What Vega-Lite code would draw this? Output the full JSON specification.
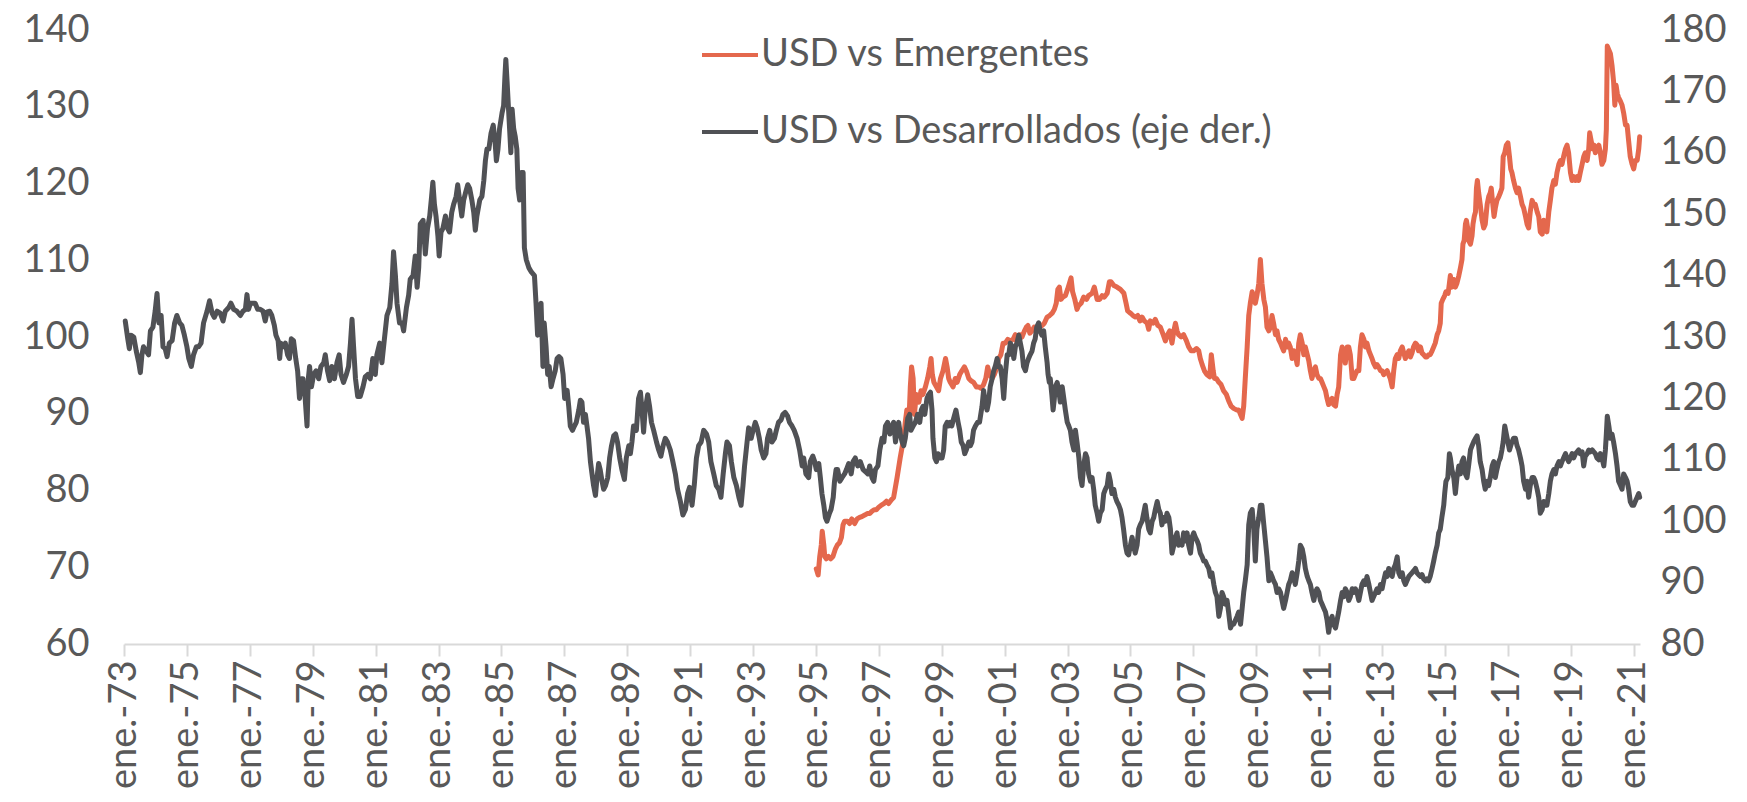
{
"$schema": "https://vega.github.io/schema/vega-lite/v6.json",
"width": 1516,
"height": 614,
"autosize": {"type": "none"},
"padding": {"left": 124, "top": 30, "right": 107, "bottom": 158},
"background": "white",
"config": {"view": {"stroke": null}, "font": "Lato", "axis": {"labelFont": "Lato", "labelColor": "#595959", "labelFontSize": 38, "grid": false, "title": null}},
"datasets": {
"emg": [
{"t":1995.01,"v":69.8},{"t":1995.07,"v":69.0},{"t":1995.12,"v":71.4},{"t":1995.17,"v":72.9},{"t":1995.20,"v":74.7},{"t":1995.25,"v":72.9},{"t":1995.28,"v":71.4},{"t":1995.33,"v":71.1},{"t":1995.40,"v":71.4},{"t":1995.47,"v":71.1},{"t":1995.54,"v":71.4},{"t":1995.62,"v":72.4},{"t":1995.68,"v":72.9},{"t":1995.75,"v":73.2},{"t":1995.81,"v":73.9},{"t":1995.86,"v":75.5},{"t":1995.91,"v":76.0},{"t":1996.00,"v":76.0},{"t":1996.07,"v":75.7},{"t":1996.14,"v":76.3},{"t":1996.23,"v":75.7},{"t":1996.31,"v":76.3},{"t":1996.39,"v":76.5},{"t":1996.46,"v":76.6},{"t":1996.55,"v":76.8},{"t":1996.63,"v":77.0},{"t":1996.71,"v":77.0},{"t":1996.78,"v":77.3},{"t":1996.85,"v":77.5},{"t":1996.92,"v":77.5},{"t":1996.99,"v":77.8},{"t":1997.08,"v":78.1},{"t":1997.16,"v":78.3},{"t":1997.24,"v":78.6},{"t":1997.31,"v":78.3},{"t":1997.40,"v":78.8},
{"t":1997.47,"v":79.1},{"t":1997.58,"v":81.7},{"t":1997.68,"v":84.3},{"t":1997.79,"v":86.8},{"t":1997.84,"v":88.9},{"t":1997.89,"v":90.5},{"t":1997.95,"v":88.4},{"t":1998.00,"v":93.5},{"t":1998.04,"v":96.1},{"t":1998.09,"v":94.6},{"t":1998.13,"v":89.9},{"t":1998.19,"v":92.5},{"t":1998.27,"v":91.5},{"t":1998.34,"v":93.0},{"t":1998.40,"v":92.5},{"t":1998.48,"v":93.5},{"t":1998.55,"v":94.6},{"t":1998.62,"v":96.1},{"t":1998.66,"v":97.2},{"t":1998.70,"v":95.1},{"t":1998.75,"v":94.1},{"t":1998.83,"v":93.5},{"t":1998.90,"v":93.0},{"t":1998.96,"v":94.6},{"t":1999.04,"v":95.6},{"t":1999.12,"v":97.2},{"t":1999.17,"v":96.1},{"t":1999.22,"v":94.6},{"t":1999.27,"v":94.1},{"t":1999.36,"v":93.5},{"t":1999.43,"v":94.6},{"t":1999.49,"v":94.1},{"t":1999.57,"v":95.1},{"t":1999.64,"v":95.6},{"t":1999.72,"v":96.1},{"t":1999.78,"v":95.6},{"t":1999.86,"v":94.6},{"t":1999.93,"v":94.3},{"t":2000.01,"v":94.1},{"t":2000.10,"v":93.5},{"t":2000.17,"v":93.5},{"t":2000.25,"v":93.3},{"t":2000.33,"v":93.8},{"t":2000.40,"v":94.6},{"t":2000.46,"v":96.1},{"t":2000.52,"v":95.1},{"t":2000.60,"v":94.6},{"t":2000.67,"v":95.1},{"t":2000.76,"v":96.1},{"t":2000.81,"v":97.2},{"t":2000.88,"v":97.7},{"t":2000.95,"v":99.2},{"t":2001.02,"v":99.2},{"t":2001.10,"v":99.7},{"t":2001.18,"v":99.5},{"t":2001.27,"v":99.7},{"t":2001.34,"v":100.3},{"t":2001.39,"v":99.2},{"t":2001.48,"v":100.3},{"t":2001.55,"v":100.0},{"t":2001.63,"v":100.8},{"t":2001.69,"v":101.3},{"t":2001.74,"v":101.5},{"t":2001.80,"v":100.5},{"t":2001.87,"v":100.8},{"t":2001.94,"v":101.3},{"t":2002.03,"v":100.8},{"t":2002.11,"v":101.3},{"t":2002.19,"v":101.5},{"t":2002.26,"v":101.8},{"t":2002.35,"v":102.6},{"t":2002.43,"v":102.8},{"t":2002.51,"v":103.1},{"t":2002.58,"v":103.6},{"t":2002.64,"v":104.4},{"t":2002.69,"v":106.2},{"t":2002.74,"v":106.5},{"t":2002.79,"v":104.9},{"t":2002.85,"v":105.2},{"t":2002.93,"v":105.4},{"t":2003.00,"v":106.2},{"t":2003.06,"v":107.0},{"t":2003.11,"v":107.7},{"t":2003.16,"v":105.9},{"t":2003.23,"v":104.9},{"t":2003.30,"v":103.6},{"t":2003.35,"v":104.1},{"t":2003.43,"v":104.4},{"t":2003.51,"v":105.2},{"t":2003.60,"v":104.9},{"t":2003.67,"v":105.4},{"t":2003.78,"v":105.7},{"t":2003.85,"v":106.5},{"t":2003.94,"v":104.9},{"t":2004.02,"v":104.9},{"t":2004.10,"v":105.4},{"t":2004.17,"v":105.2},{"t":2004.26,"v":105.7},{"t":2004.33,"v":107.2},{"t":2004.38,"v":107.2},{"t":2004.47,"v":106.7},{"t":2004.57,"v":106.5},{"t":2004.68,"v":106.2},{"t":2004.79,"v":105.7},{"t":2004.86,"v":104.4},{"t":2004.91,"v":103.4},{"t":2005.00,"v":103.1},{"t":2005.08,"v":102.8},{"t":2005.16,"v":102.6},{"t":2005.23,"v":102.8},{"t":2005.30,"v":102.1},{"t":2005.37,"v":102.6},{"t":2005.44,"v":102.1},{"t":2005.53,"v":101.8},{"t":2005.58,"v":101.0},
{"t":2005.63,"v":102.1},{"t":2005.72,"v":101.8},{"t":2005.79,"v":102.3},{"t":2005.87,"v":101.5},{"t":2005.95,"v":101.3},{"t":2006.04,"v":100.3},{"t":2006.11,"v":99.5},{"t":2006.18,"v":100.3},{"t":2006.25,"v":100.8},{"t":2006.32,"v":99.2},{"t":2006.38,"v":100.8},{"t":2006.43,"v":101.8},{"t":2006.48,"v":100.8},{"t":2006.53,"v":100.3},{"t":2006.61,"v":100.0},{"t":2006.69,"v":100.3},{"t":2006.78,"v":99.5},{"t":2006.85,"v":98.7},{"t":2006.93,"v":98.2},{"t":2007.01,"v":98.2},{"t":2007.10,"v":98.5},{"t":2007.17,"v":98.2},{"t":2007.22,"v":97.2},{"t":2007.28,"v":96.4},{"t":2007.35,"v":95.6},{"t":2007.43,"v":95.1},{"t":2007.52,"v":94.8},{"t":2007.57,"v":97.7},{"t":2007.63,"v":95.6},{"t":2007.67,"v":94.6},{"t":2007.73,"v":94.6},{"t":2007.81,"v":94.1},{"t":2007.88,"v":93.8},{"t":2007.96,"v":93.0},{"t":2008.05,"v":92.5},{"t":2008.12,"v":91.7},{"t":2008.20,"v":91.0},{"t":2008.28,"v":90.7},{"t":2008.37,"v":90.5},{"t":2008.44,"v":90.5},{"t":2008.50,"v":89.9},{"t":2008.55,"v":89.4},{"t":2008.60,"v":91.0},{"t":2008.65,"v":94.6},{"t":2008.71,"v":98.7},{"t":2008.76,"v":102.8},{"t":2008.81,"v":104.4},{"t":2008.87,"v":105.9},{"t":2008.92,"v":104.9},{"t":2008.97,"v":104.4},{"t":2009.02,"v":105.4},{"t":2009.08,"v":107.0},{"t":2009.13,"v":110.1},{"t":2009.18,"v":107.0},{"t":2009.24,"v":104.9},{"t":2009.29,"v":103.9},{"t":2009.34,"v":101.3},{"t":2009.40,"v":100.8},{"t":2009.45,"v":101.3},{"t":2009.50,"v":102.8},{"t":2009.55,"v":101.8},{"t":2009.61,"v":100.3},{"t":2009.66,"v":100.8},{"t":2009.71,"v":99.7},{"t":2009.77,"v":99.2},{"t":2009.82,"v":98.7},{"t":2009.87,"v":98.2},{"t":2009.93,"v":99.7},{"t":2009.98,"v":98.7},{"t":2010.03,"v":99.2},{"t":2010.08,"v":98.7},{"t":2010.14,"v":97.2},{"t":2010.19,"v":98.2},{"t":2010.24,"v":97.7},{"t":2010.30,"v":96.4},{"t":2010.35,"v":99.2},{"t":2010.40,"v":100.3},{"t":2010.46,"v":99.2},{"t":2010.51,"v":97.7},{"t":2010.56,"v":98.7},{"t":2010.62,"v":97.7},{"t":2010.67,"v":96.9},{"t":2010.72,"v":95.6},{"t":2010.77,"v":94.6},{"t":2010.83,"v":95.6},{"t":2010.88,"v":96.1},{"t":2010.93,"v":95.1},{"t":2010.99,"v":94.6},{"t":2011.04,"v":94.6},{"t":2011.09,"v":94.1},{"t":2011.15,"v":93.5},{"t":2011.20,"v":93.0},{"t":2011.25,"v":92.0},{"t":2011.30,"v":91.2},{"t":2011.36,"v":91.7},{"t":2011.41,"v":92.0},{"t":2011.46,"v":91.2},{"t":2011.52,"v":91.0},{"t":2011.57,"v":92.5},{"t":2011.62,"v":93.5},{"t":2011.68,"v":97.7},{"t":2011.73,"v":98.7},{"t":2011.78,"v":98.2},{"t":2011.83,"v":96.6},{"t":2011.89,"v":98.7},{"t":2011.94,"v":98.7},{"t":2011.99,"v":97.7},{"t":2012.05,"v":94.6},{"t":2012.10,"v":94.6},{"t":2012.15,"v":95.1},{"t":2012.20,"v":95.6},{"t":2012.26,"v":95.6},{"t":2012.31,"v":98.7},{"t":2012.36,"v":100.3},{"t":2012.42,"v":99.7},{"t":2012.47,"v":98.7},{"t":2012.52,"v":99.2},{"t":2012.58,"v":98.2},{"t":2012.63,"v":97.7},{"t":2012.68,"v":97.2},{"t":2012.73,"v":96.6},{"t":2012.79,"v":96.1},{"t":2012.84,"v":96.4},{"t":2012.89,"v":96.1},{"t":2012.95,"v":95.6},{"t":2013.00,"v":95.6},{"t":2013.05,"v":95.1},{"t":2013.11,"v":95.4},{"t":2013.16,"v":95.6},{"t":2013.21,"v":95.1},{"t":2013.26,"v":94.6},{"t":2013.32,"v":93.5},{"t":2013.37,"v":95.6},{"t":2013.42,"v":97.2},{"t":2013.48,"v":97.7},{"t":2013.53,"v":97.2},{"t":2013.58,"v":98.2},{"t":2013.64,"v":98.7},{"t":2013.69,"v":97.9},
{"t":2013.74,"v":97.2},{"t":2013.79,"v":97.7},{"t":2013.85,"v":98.2},{"t":2013.90,"v":97.4},{"t":2013.95,"v":97.9},{"t":2014.00,"v":98.7},{"t":2014.06,"v":99.2},{"t":2014.11,"v":99.0},{"t":2014.16,"v":98.2},{"t":2014.22,"v":98.7},{"t":2014.27,"v":97.9},{"t":2014.32,"v":97.7},{"t":2014.38,"v":97.4},{"t":2014.43,"v":97.4},{"t":2014.48,"v":97.7},{"t":2014.53,"v":97.7},{"t":2014.59,"v":98.2},{"t":2014.64,"v":98.7},{"t":2014.69,"v":99.2},{"t":2014.75,"v":100.3},{"t":2014.80,"v":100.8},{"t":2014.85,"v":101.8},{"t":2014.88,"v":104.4},{"t":2014.93,"v":104.9},{"t":2014.99,"v":105.4},{"t":2015.03,"v":105.9},{"t":2015.10,"v":105.7},{"t":2015.14,"v":107.0},{"t":2015.17,"v":108.0},{"t":2015.22,"v":106.5},{"t":2015.28,"v":107.5},{"t":2015.33,"v":106.5},{"t":2015.38,"v":107.0},{"t":2015.44,"v":108.0},{"t":2015.49,"v":109.0},{"t":2015.54,"v":110.1},{"t":2015.57,"v":112.1},{"t":2015.61,"v":112.6},{"t":2015.65,"v":114.7},{"t":2015.68,"v":115.2},{"t":2015.72,"v":114.2},{"t":2015.75,"v":112.6},{"t":2015.81,"v":112.1},{"t":2015.86,"v":113.2},{"t":2015.89,"v":114.7},{"t":2015.93,"v":115.7},{"t":2015.97,"v":116.3},{"t":2016.00,"v":119.4},{"t":2016.03,"v":120.4},{"t":2016.07,"v":118.8},{"t":2016.12,"v":117.3},{"t":2016.18,"v":115.2},{"t":2016.23,"v":114.2},{"t":2016.28,"v":114.7},{"t":2016.34,"v":117.3},{"t":2016.39,"v":118.3},{"t":2016.44,"v":118.8},{"t":2016.47,"v":119.4},{"t":2016.52,"v":117.3},{"t":2016.56,"v":115.7},{"t":2016.60,"v":116.8},{"t":2016.65,"v":117.8},{"t":2016.71,"v":118.3},{"t":2016.76,"v":118.8},{"t":2016.81,"v":119.4},{"t":2016.85,"v":123.5},{"t":2016.90,"v":124.0},{"t":2016.95,"v":125.0},{"t":2017.00,"v":125.3},{"t":2017.05,"v":123.5},{"t":2017.09,"v":121.9},{"t":2017.13,"v":121.4},{"t":2017.18,"v":120.4},{"t":2017.24,"v":119.4},{"t":2017.29,"v":118.8},{"t":2017.34,"v":119.4},{"t":2017.40,"v":118.3},{"t":2017.45,"v":117.3},{"t":2017.50,"v":116.8},{"t":2017.56,"v":115.7},{"t":2017.61,"v":114.7},{"t":2017.66,"v":114.2},{"t":2017.71,"v":116.3},{"t":2017.77,"v":117.8},{"t":2017.82,"v":117.3},{"t":2017.87,"v":117.3},{"t":2017.93,"v":116.3},{"t":2017.98,"v":115.7},{"t":2018.03,"v":113.7},{"t":2018.09,"v":113.4},{"t":2018.14,"v":115.2},{"t":2018.19,"v":114.7},{"t":2018.24,"v":113.7},{"t":2018.30,"v":116.3},{"t":2018.35,"v":117.8},{"t":2018.40,"v":119.4},{"t":2018.46,"v":120.4},{"t":2018.51,"v":119.9},{"t":2018.56,"v":121.4},{"t":2018.62,"v":122.5},{"t":2018.67,"v":123.0},{"t":2018.72,"v":122.5},{"t":2018.77,"v":123.5},{"t":2018.83,"v":124.5},{"t":2018.88,"v":125.0},{"t":2018.93,"v":124.0},{"t":2018.99,"v":121.4},{"t":2019.04,"v":120.4},{"t":2019.09,"v":120.9},{"t":2019.15,"v":120.4},{"t":2019.20,"v":120.9},{"t":2019.25,"v":120.4},{"t":2019.30,"v":121.4},{"t":2019.36,"v":122.5},{"t":2019.41,"v":123.5},{"t":2019.46,"v":124.0},{"t":2019.52,"v":123.0},{"t":2019.57,"v":124.5},{"t":2019.60,"v":126.6},{"t":2019.65,"v":125.5},{"t":2019.70,"v":124.5},{"t":2019.74,"v":125.0},{"t":2019.78,"v":124.0},{"t":2019.83,"v":124.5},{"t":2019.89,"v":125.0},{"t":2019.94,"v":124.0},{"t":2019.99,"v":122.5},{"t":2020.05,"v":123.0},{"t":2020.10,"v":124.5},{"t":2020.13,"v":127.1},{"t":2020.16,"v":137.9},{"t":2020.21,"v":137.4},{"t":2020.26,"v":136.9},{"t":2020.31,"v":135.4},{"t":2020.36,"v":133.3},{"t":2020.40,"v":130.2},{"t":2020.44,"v":132.8},{"t":2020.48,"v":131.7},{"t":2020.52,"v":131.2},{"t":2020.58,"v":130.7},{"t":2020.63,"v":130.2},{"t":2020.68,"v":129.2},{"t":2020.74,"v":127.6},{"t":2020.79,"v":127.6},{"t":2020.84,"v":125.5},{"t":2020.89,"v":123.5},{"t":2020.95,"v":122.5},{"t":2021.00,"v":121.9},{"t":2021.05,"v":123.0},{"t":2021.11,"v":123.0},{"t":2021.16,"v":124.5},{"t":2021.19,"v":126.1}
],
"des": [
{"t":1973.04,"v":132.6},{"t":1973.12,"v":129.7},{"t":1973.17,"v":128.1},{"t":1973.22,"v":130.3},{"t":1973.31,"v":130.0},{"t":1973.39,"v":127.7},{"t":1973.47,"v":125.8},{"t":1973.52,"v":124.2},{"t":1973.57,"v":127.1},{"t":1973.62,"v":128.4},{"t":1973.71,"v":127.7},{"t":1973.78,"v":127.1},{"t":1973.84,"v":131.0},{"t":1973.92,"v":131.6},{"t":1973.99,"v":134.2},{"t":1974.05,"v":137.1},{"t":1974.11,"v":132.3},{"t":1974.18,"v":133.5},{"t":1974.24,"v":128.4},{"t":1974.31,"v":128.1},{"t":1974.37,"v":126.8},{"t":1974.44,"v":129.0},{"t":1974.53,"v":129.4},{"t":1974.61,"v":132.3},{"t":1974.68,"v":133.5},{"t":1974.77,"v":132.3},{"t":1974.84,"v":131.9},{"t":1974.92,"v":130.3},{"t":1975.00,"v":128.4},{"t":1975.06,"v":126.5},{"t":1975.14,"v":125.2},{"t":1975.21,"v":127.1},{"t":1975.30,"v":128.4},{"t":1975.37,"v":128.4},{"t":1975.45,"v":129.0},{"t":1975.53,"v":132.3},{"t":1975.64,"v":134.2},{"t":1975.72,"v":135.9},{"t":1975.80,"v":133.9},{"t":1975.87,"v":133.2},{"t":1975.96,"v":134.2},{"t":1976.06,"v":133.9},{"t":1976.15,"v":132.6},{"t":1976.22,"v":134.2},{"t":1976.33,"v":134.8},{"t":1976.40,"v":135.5},{"t":1976.49,"v":134.5},{"t":1976.59,"v":134.2},{"t":1976.70,"v":133.5},{"t":1976.78,"v":134.2},{"t":1976.86,"v":134.5},{"t":1976.91,"v":136.9},{"t":1976.96,"v":134.5},{"t":1977.02,"v":135.5},{"t":1977.10,"v":135.5},{"t":1977.17,"v":135.5},{"t":1977.25,"v":134.5},{"t":1977.33,"v":134.5},{"t":1977.42,"v":134.2},{"t":1977.49,"v":132.6},{"t":1977.55,"v":134.1},{"t":1977.63,"v":134.2},{"t":1977.70,"v":133.5},{"t":1977.78,"v":131.9},{"t":1977.83,"v":130.3},{"t":1977.90,"v":129.4},{"t":1977.95,"v":126.5},{"t":1977.99,"v":129.0},{"t":1978.05,"v":128.4},{"t":1978.13,"v":129.0},{"t":1978.20,"v":127.1},{"t":1978.26,"v":126.5},{"t":1978.32,"v":129.7},{"t":1978.39,"v":129.4},{"t":1978.46,"v":126.5},{"t":1978.52,"v":124.5},{"t":1978.58,"v":120.0},{"t":1978.64,"v":123.2},{"t":1978.69,"v":123.2},{"t":1978.76,"v":120.0},{"t":1978.82,"v":115.5},{"t":1978.86,"v":123.2},{"t":1978.90,"v":125.2},{"t":1978.96,"v":121.9},{"t":1979.03,"v":123.9},{"t":1979.11,"v":124.5},{"t":1979.19,"v":123.2},{"t":1979.26,"v":125.2},{"t":1979.35,"v":125.8},{"t":1979.40,"v":127.1},{"t":1979.47,"v":124.5},{"t":1979.54,"v":122.9},{"t":1979.61,"v":125.2},{"t":1979.69,"v":123.2},{"t":1979.77,"v":125.8},{"t":1979.84,"v":127.1},{"t":1979.90,"v":123.9},{"t":1979.98,"v":122.6},{"t":1980.07,"v":123.9},{"t":1980.14,"v":125.2},{"t":1980.20,"v":129.0},{"t":1980.25,"v":132.9},{"t":1980.30,"v":128.4},{"t":1980.36,"v":123.2},{"t":1980.43,"v":120.3},{"t":1980.51,"v":120.3},{"t":1980.60,"v":121.9},{"t":1980.67,"v":123.5},{"t":1980.75,"v":123.9},
{"t":1980.83,"v":123.2},{"t":1980.91,"v":126.5},{"t":1980.99,"v":123.9},{"t":1981.04,"v":127.1},{"t":1981.13,"v":129.0},{"t":1981.20,"v":125.8},{"t":1981.28,"v":129.7},{"t":1981.36,"v":133.5},{"t":1981.45,"v":134.8},{"t":1981.52,"v":138.7},{"t":1981.57,"v":143.9},{"t":1981.63,"v":140.0},{"t":1981.68,"v":135.5},{"t":1981.76,"v":132.3},{"t":1981.84,"v":132.3},{"t":1981.89,"v":131.0},{"t":1981.98,"v":134.8},{"t":1982.05,"v":136.8},{"t":1982.10,"v":139.4},{"t":1982.19,"v":140.0},{"t":1982.26,"v":143.2},{"t":1982.32,"v":138.1},{"t":1982.37,"v":141.3},{"t":1982.42,"v":148.4},{"t":1982.51,"v":149.0},{"t":1982.58,"v":143.5},{"t":1982.65,"v":147.7},{"t":1982.72,"v":149.7},{"t":1982.78,"v":152.9},{"t":1982.82,"v":155.2},{"t":1982.87,"v":151.6},{"t":1982.92,"v":149.7},{"t":1982.98,"v":146.5},{"t":1983.02,"v":143.2},{"t":1983.08,"v":147.1},{"t":1983.14,"v":147.7},{"t":1983.22,"v":149.7},{"t":1983.29,"v":147.7},{"t":1983.35,"v":147.1},{"t":1983.42,"v":150.3},{"t":1983.48,"v":151.6},{"t":1983.56,"v":152.9},{"t":1983.61,"v":154.8},{"t":1983.67,"v":152.3},{"t":1983.74,"v":149.7},{"t":1983.80,"v":152.3},{"t":1983.86,"v":153.5},{"t":1983.93,"v":154.8},{"t":1983.99,"v":154.2},{"t":1984.06,"v":152.3},{"t":1984.12,"v":150.3},{"t":1984.17,"v":147.4},{"t":1984.22,"v":149.7},{"t":1984.31,"v":152.3},{"t":1984.38,"v":152.9},{"t":1984.44,"v":155.5},{"t":1984.49,"v":158.7},{"t":1984.54,"v":160.6},{"t":1984.60,"v":160.6},{"t":1984.67,"v":163.2},{"t":1984.74,"v":164.5},{"t":1984.79,"v":162.3},{"t":1984.84,"v":158.7},{"t":1984.89,"v":160.6},{"t":1984.94,"v":163.9},{"t":1985.02,"v":166.5},{"t":1985.07,"v":167.7},{"t":1985.11,"v":172.3},{"t":1985.14,"v":175.2},{"t":1985.18,"v":171.6},{"t":1985.22,"v":167.7},{"t":1985.26,"v":163.9},{"t":1985.30,"v":160.0},{"t":1985.34,"v":167.1},{"t":1985.39,"v":163.9},{"t":1985.44,"v":162.6},{"t":1985.49,"v":160.6},{"t":1985.53,"v":154.2},{"t":1985.58,"v":152.3},{"t":1985.63,"v":156.8},{"t":1985.69,"v":156.8},{"t":1985.73,"v":144.5},{"t":1985.79,"v":142.6},{"t":1985.87,"v":141.3},{"t":1985.95,"v":140.6},{"t":1986.05,"v":140.0},{"t":1986.10,"v":135.5},{"t":1986.15,"v":130.3},{"t":1986.21,"v":134.8},{"t":1986.26,"v":135.5},{"t":1986.32,"v":125.2},{"t":1986.36,"v":132.3},{"t":1986.42,"v":128.4},{"t":1986.47,"v":123.9},{"t":1986.52,"v":125.2},{"t":1986.58,"v":121.9},{"t":1986.64,"v":123.2},{"t":1986.71,"v":124.5},{"t":1986.77,"v":126.5},{"t":1986.83,"v":126.8},{"t":1986.89,"v":126.5},{"t":1986.96,"v":123.9},{"t":1987.01,"v":120.0},{"t":1987.09,"v":121.3},{"t":1987.14,"v":118.7},{"t":1987.19,"v":115.5},{"t":1987.26,"v":114.8},{"t":1987.32,"v":115.5},{"t":1987.38,"v":116.1},{"t":1987.46,"v":118.1},{"t":1987.51,"v":119.7},{"t":1987.56,"v":119.4},{"t":1987.61,"v":116.1},{"t":1987.67,"v":117.4},{"t":1987.72,"v":115.5},{"t":1987.77,"v":113.5},{"t":1987.83,"v":109.7},{"t":1987.88,"v":107.7},{"t":1987.93,"v":105.8},{"t":1987.99,"v":104.2},{"t":1988.04,"v":107.1},{"t":1988.09,"v":109.4},{"t":1988.14,"v":108.4},{"t":1988.20,"v":106.5},{"t":1988.25,"v":105.2},{"t":1988.31,"v":105.8},{"t":1988.38,"v":107.1},{"t":1988.44,"v":110.3},{"t":1988.50,"v":112.3},{"t":1988.57,"v":113.9},{"t":1988.63,"v":114.2},{"t":1988.69,"v":112.9},{"t":1988.76,"v":110.3},{"t":1988.83,"v":108.4},{"t":1988.91,"v":106.8},{"t":1988.97,"v":110.3},{"t":1989.05,"v":112.3},
{"t":1989.10,"v":111.0},{"t":1989.15,"v":112.9},{"t":1989.20,"v":115.5},{"t":1989.29,"v":114.8},{"t":1989.36,"v":120.0},{"t":1989.42,"v":121.0},{"t":1989.47,"v":118.1},{"t":1989.52,"v":114.5},{"t":1989.57,"v":118.1},{"t":1989.65,"v":120.6},{"t":1989.71,"v":118.7},{"t":1989.77,"v":116.1},{"t":1989.84,"v":114.8},{"t":1989.93,"v":112.9},{"t":1990.00,"v":111.6},{"t":1990.07,"v":110.6},{"t":1990.14,"v":112.3},{"t":1990.21,"v":113.5},{"t":1990.28,"v":112.9},{"t":1990.37,"v":111.6},{"t":1990.45,"v":109.7},{"t":1990.53,"v":107.7},{"t":1990.60,"v":105.2},{"t":1990.69,"v":103.2},{"t":1990.77,"v":101.0},{"t":1990.85,"v":101.9},{"t":1990.92,"v":104.5},{"t":1990.98,"v":105.5},{"t":1991.06,"v":102.6},{"t":1991.13,"v":105.8},{"t":1991.20,"v":110.3},{"t":1991.27,"v":112.3},{"t":1991.35,"v":112.9},{"t":1991.43,"v":114.8},{"t":1991.52,"v":114.2},{"t":1991.59,"v":112.9},{"t":1991.66,"v":109.7},{"t":1991.75,"v":107.7},{"t":1991.83,"v":105.8},{"t":1991.91,"v":105.2},{"t":1991.98,"v":103.9},{"t":1992.05,"v":107.7},{"t":1992.12,"v":111.0},{"t":1992.17,"v":112.9},{"t":1992.25,"v":112.3},{"t":1992.31,"v":109.7},{"t":1992.39,"v":107.1},{"t":1992.47,"v":105.8},{"t":1992.55,"v":103.9},{"t":1992.62,"v":102.6},{"t":1992.68,"v":105.8},{"t":1992.73,"v":109.0},{"t":1992.81,"v":112.9},{"t":1992.86,"v":115.2},{"t":1992.94,"v":113.5},{"t":1993.00,"v":114.8},{"t":1993.07,"v":116.1},{"t":1993.13,"v":115.2},{"t":1993.20,"v":113.5},{"t":1993.26,"v":111.6},{"t":1993.34,"v":110.3},{"t":1993.41,"v":111.0},{"t":1993.46,"v":113.5},{"t":1993.53,"v":114.8},{"t":1993.60,"v":112.9},{"t":1993.68,"v":113.5},{"t":1993.74,"v":114.8},{"t":1993.81,"v":116.1},{"t":1993.89,"v":116.5},{"t":1993.95,"v":117.4},{"t":1994.02,"v":117.7},{"t":1994.10,"v":117.1},{"t":1994.16,"v":116.1},{"t":1994.24,"v":115.5},{"t":1994.31,"v":114.8},{"t":1994.40,"v":113.5},{"t":1994.48,"v":111.6},{"t":1994.56,"v":109.0},{"t":1994.61,"v":110.3},{"t":1994.68,"v":107.7},{"t":1994.77,"v":107.1},{"t":1994.82,"v":109.7},{"t":1994.90,"v":110.6},{"t":1994.96,"v":109.7},{"t":1995.01,"v":108.4},{"t":1995.09,"v":109.4},{"t":1995.14,"v":107.1},{"t":1995.19,"v":104.5},{"t":1995.25,"v":102.6},{"t":1995.30,"v":100.6},{"t":1995.35,"v":100.0},{"t":1995.43,"v":101.3},{"t":1995.48,"v":101.9},{"t":1995.55,"v":103.9},{"t":1995.59,"v":106.5},{"t":1995.64,"v":108.4},{"t":1995.69,"v":108.4},{"t":1995.76,"v":106.5},{"t":1995.83,"v":107.1},{"t":1995.91,"v":107.7},{"t":1995.97,"v":108.4},{"t":1996.04,"v":109.4},{"t":1996.12,"v":107.7},{"t":1996.18,"v":109.7},{"t":1996.25,"v":110.3},{"t":1996.33,"v":109.0},{"t":1996.41,"v":109.7},{"t":1996.50,"v":108.4},{"t":1996.57,"v":108.1},{"t":1996.65,"v":107.7},{"t":1996.71,"v":109.0},{"t":1996.78,"v":107.1},{"t":1996.84,"v":106.5},{"t":1996.89,"v":108.4},{"t":1996.97,"v":109.0},{"t":1997.03,"v":111.6},{"t":1997.10,"v":113.5},{"t":1997.16,"v":112.9},{"t":1997.21,"v":115.5},{"t":1997.28,"v":116.1},{"t":1997.35,"v":114.2},
{"t":1997.42,"v":115.5},{"t":1997.47,"v":116.1},{"t":1997.53,"v":112.9},{"t":1997.58,"v":114.8},{"t":1997.63,"v":116.1},{"t":1997.68,"v":114.2},{"t":1997.74,"v":112.9},{"t":1997.79,"v":112.3},{"t":1997.84,"v":113.5},{"t":1997.92,"v":116.8},{"t":1997.98,"v":117.4},{"t":1998.02,"v":114.8},{"t":1998.09,"v":115.5},{"t":1998.16,"v":116.1},{"t":1998.23,"v":117.4},{"t":1998.30,"v":116.1},{"t":1998.35,"v":118.1},{"t":1998.40,"v":118.7},{"t":1998.46,"v":117.4},{"t":1998.53,"v":120.0},{"t":1998.58,"v":120.6},{"t":1998.64,"v":121.0},{"t":1998.69,"v":118.1},{"t":1998.72,"v":113.5},{"t":1998.78,"v":110.3},{"t":1998.83,"v":109.7},{"t":1998.88,"v":111.0},{"t":1998.93,"v":110.3},{"t":1999.01,"v":110.3},{"t":1999.06,"v":111.6},{"t":1999.11,"v":115.5},{"t":1999.17,"v":116.1},{"t":1999.22,"v":115.5},{"t":1999.27,"v":116.1},{"t":1999.32,"v":115.5},{"t":1999.38,"v":116.8},{"t":1999.45,"v":118.1},{"t":1999.52,"v":116.1},{"t":1999.57,"v":114.8},{"t":1999.62,"v":112.9},{"t":1999.68,"v":112.3},{"t":1999.73,"v":111.0},{"t":1999.78,"v":111.6},{"t":1999.86,"v":112.9},{"t":1999.91,"v":112.3},{"t":1999.96,"v":112.9},{"t":2000.01,"v":114.8},{"t":2000.07,"v":115.5},{"t":2000.14,"v":116.1},{"t":2000.20,"v":116.1},{"t":2000.28,"v":118.7},{"t":2000.33,"v":121.3},{"t":2000.38,"v":119.4},{"t":2000.44,"v":118.1},{"t":2000.49,"v":119.4},{"t":2000.54,"v":121.9},{"t":2000.60,"v":123.2},{"t":2000.65,"v":124.5},{"t":2000.70,"v":125.2},{"t":2000.76,"v":126.5},{"t":2000.81,"v":125.2},{"t":2000.86,"v":125.2},{"t":2000.92,"v":123.2},{"t":2000.97,"v":120.0},{"t":2001.02,"v":123.9},{"t":2001.08,"v":127.1},{"t":2001.13,"v":127.1},{"t":2001.18,"v":129.0},{"t":2001.24,"v":128.4},{"t":2001.29,"v":126.5},{"t":2001.34,"v":128.4},{"t":2001.39,"v":129.0},{"t":2001.45,"v":130.3},{"t":2001.50,"v":129.0},{"t":2001.55,"v":127.7},{"t":2001.60,"v":125.2},{"t":2001.66,"v":124.5},{"t":2001.71,"v":125.8},{"t":2001.76,"v":126.5},{"t":2001.81,"v":127.1},{"t":2001.87,"v":127.7},{"t":2001.92,"v":129.0},{"t":2001.97,"v":129.7},{"t":2002.02,"v":131.6},{"t":2002.08,"v":132.3},{"t":2002.13,"v":131.0},{"t":2002.18,"v":130.3},{"t":2002.24,"v":131.0},{"t":2002.29,"v":128.4},{"t":2002.35,"v":125.8},{"t":2002.38,"v":123.9},{"t":2002.42,"v":122.6},{"t":2002.45,"v":123.2},{"t":2002.50,"v":120.6},{"t":2002.54,"v":118.1},{"t":2002.58,"v":120.0},{"t":2002.61,"v":121.9},{"t":2002.67,"v":122.6},{"t":2002.72,"v":121.3},{"t":2002.77,"v":119.4},{"t":2002.83,"v":121.9},{"t":2002.88,"v":120.0},{"t":2002.93,"v":118.1},{"t":2002.99,"v":116.1},{"t":2003.04,"v":115.5},{"t":2003.09,"v":114.8},{"t":2003.14,"v":112.9},{"t":2003.20,"v":111.6},{"t":2003.25,"v":114.8},{"t":2003.30,"v":112.9},{"t":2003.36,"v":110.3},{"t":2003.41,"v":107.1},{"t":2003.46,"v":105.8},{"t":2003.51,"v":109.0},{"t":2003.57,"v":111.0},{"t":2003.62,"v":110.3},{"t":2003.67,"v":107.7},{"t":2003.73,"v":106.5},{"t":2003.78,"v":107.1},{"t":2003.83,"v":105.2},{"t":2003.88,"v":102.6},{"t":2003.94,"v":101.3},{"t":2003.99,"v":100.0},{"t":2004.04,"v":101.3},{"t":2004.10,"v":101.9},{"t":2004.15,"v":104.5},{"t":2004.20,"v":105.2},{"t":2004.26,"v":105.8},{"t":2004.31,"v":107.7},{"t":2004.36,"v":106.5},{"t":2004.41,"v":104.5},{"t":2004.47,"v":105.2},{"t":2004.52,"v":103.9},{"t":2004.57,"v":103.2},{"t":2004.63,"v":102.6},{"t":2004.68,"v":101.9},{"t":2004.73,"v":100.6},{"t":2004.78,"v":98.7},{"t":2004.84,"v":96.1},{"t":2004.89,"v":94.8},{"t":2004.94,"v":94.5},{"t":2005.00,"v":96.1},{"t":2005.05,"v":97.4},{"t":2005.10,"v":96.1},{"t":2005.15,"v":94.8},{"t":2005.21,"v":96.1},{"t":2005.26,"v":98.7},{"t":2005.31,"v":99.4},{"t":2005.37,"v":100.0},{"t":2005.42,"v":101.3},{"t":2005.47,"v":102.6},{"t":2005.52,"v":100.6},{"t":2005.58,"v":98.7},
{"t":2005.63,"v":98.1},{"t":2005.69,"v":100.0},{"t":2005.74,"v":100.6},{"t":2005.79,"v":101.9},{"t":2005.85,"v":103.2},{"t":2005.90,"v":101.9},{"t":2005.95,"v":101.3},{"t":2006.00,"v":99.4},{"t":2006.06,"v":100.6},{"t":2006.11,"v":100.0},{"t":2006.16,"v":101.3},{"t":2006.22,"v":100.6},{"t":2006.27,"v":98.7},{"t":2006.32,"v":94.8},{"t":2006.38,"v":96.1},{"t":2006.43,"v":97.4},{"t":2006.48,"v":98.1},{"t":2006.53,"v":96.1},{"t":2006.59,"v":96.8},{"t":2006.64,"v":96.1},{"t":2006.69,"v":98.1},{"t":2006.75,"v":96.8},{"t":2006.80,"v":98.1},{"t":2006.85,"v":96.1},{"t":2006.91,"v":94.8},{"t":2006.96,"v":97.4},{"t":2007.01,"v":98.1},{"t":2007.06,"v":97.4},{"t":2007.12,"v":96.8},{"t":2007.17,"v":96.1},{"t":2007.22,"v":94.8},{"t":2007.28,"v":94.2},{"t":2007.33,"v":93.5},{"t":2007.38,"v":93.5},{"t":2007.43,"v":92.9},{"t":2007.49,"v":92.3},{"t":2007.54,"v":91.0},{"t":2007.59,"v":91.6},{"t":2007.65,"v":89.7},{"t":2007.70,"v":88.4},{"t":2007.75,"v":87.7},{"t":2007.81,"v":84.5},{"t":2007.86,"v":85.8},{"t":2007.91,"v":88.4},{"t":2007.96,"v":87.7},{"t":2008.02,"v":86.5},{"t":2008.07,"v":87.1},{"t":2008.12,"v":85.2},{"t":2008.18,"v":82.6},{"t":2008.23,"v":83.2},{"t":2008.28,"v":83.2},{"t":2008.34,"v":83.9},{"t":2008.39,"v":84.5},{"t":2008.44,"v":85.2},{"t":2008.50,"v":83.2},{"t":2008.55,"v":85.8},{"t":2008.60,"v":88.4},{"t":2008.65,"v":90.3},{"t":2008.71,"v":92.9},{"t":2008.76,"v":99.4},{"t":2008.81,"v":101.3},{"t":2008.87,"v":101.9},{"t":2008.92,"v":98.7},{"t":2008.97,"v":93.5},{"t":2009.02,"v":98.7},{"t":2009.08,"v":100.6},{"t":2009.13,"v":102.6},{"t":2009.18,"v":102.6},{"t":2009.24,"v":99.4},{"t":2009.29,"v":96.8},{"t":2009.34,"v":94.2},{"t":2009.40,"v":90.3},{"t":2009.45,"v":91.6},{"t":2009.50,"v":91.0},{"t":2009.55,"v":90.3},{"t":2009.61,"v":89.7},{"t":2009.66,"v":88.4},{"t":2009.71,"v":89.0},{"t":2009.77,"v":88.4},{"t":2009.82,"v":87.1},{"t":2009.87,"v":85.8},{"t":2009.93,"v":87.1},{"t":2009.98,"v":88.4},{"t":2010.03,"v":89.7},{"t":2010.08,"v":90.3},{"t":2010.14,"v":91.6},{"t":2010.19,"v":91.0},{"t":2010.24,"v":89.7},{"t":2010.30,"v":91.6},{"t":2010.35,"v":93.5},{"t":2010.40,"v":96.1},{"t":2010.46,"v":95.5},{"t":2010.51,"v":94.2},{"t":2010.56,"v":92.3},{"t":2010.62,"v":91.0},{"t":2010.67,"v":90.3},{"t":2010.72,"v":89.7},{"t":2010.77,"v":88.4},{"t":2010.83,"v":87.1},{"t":2010.88,"v":88.4},{"t":2010.93,"v":89.0},{"t":2010.99,"v":88.4},{"t":2011.04,"v":87.1},{"t":2011.09,"v":86.5},{"t":2011.15,"v":85.8},{"t":2011.20,"v":85.2},{"t":2011.25,"v":83.9},{"t":2011.30,"v":81.9},{"t":2011.36,"v":83.9},{"t":2011.41,"v":84.5},{"t":2011.46,"v":83.2},{"t":2011.52,"v":82.6},{"t":2011.57,"v":83.9},{"t":2011.62,"v":85.2},{"t":2011.68,"v":87.1},{"t":2011.73,"v":88.4},{"t":2011.78,"v":87.7},{"t":2011.83,"v":89.0},{"t":2011.89,"v":88.4},{"t":2011.94,"v":87.1},{"t":2011.99,"v":87.7},{"t":2012.05,"v":89.0},{"t":2012.10,"v":88.4},{"t":2012.15,"v":89.0},{"t":2012.20,"v":88.4},{"t":2012.26,"v":87.1},{"t":2012.31,"v":88.4},{"t":2012.36,"v":89.7},{"t":2012.42,"v":90.3},{"t":2012.47,"v":89.7},{"t":2012.52,"v":91.0},{"t":2012.58,"v":89.7},{"t":2012.63,"v":88.4},{"t":2012.68,"v":87.1},{"t":2012.73,"v":87.7},{"t":2012.79,"v":88.4},{"t":2012.84,"v":89.0},{"t":2012.89,"v":88.4},{"t":2012.95,"v":89.7},{"t":2013.00,"v":89.0},{"t":2013.05,"v":90.3},{"t":2013.11,"v":91.6},{"t":2013.16,"v":91.0},{"t":2013.21,"v":92.3},{"t":2013.26,"v":91.6},{"t":2013.32,"v":91.0},{"t":2013.37,"v":92.3},{"t":2013.42,"v":92.9},{"t":2013.48,"v":94.2},{"t":2013.53,"v":91.6},{"t":2013.58,"v":91.0},{"t":2013.64,"v":91.6},{"t":2013.69,"v":90.3},
{"t":2013.74,"v":89.7},{"t":2013.79,"v":90.3},{"t":2013.85,"v":91.0},{"t":2013.90,"v":91.3},{"t":2013.95,"v":91.6},{"t":2014.00,"v":91.9},{"t":2014.06,"v":92.3},{"t":2014.11,"v":91.6},{"t":2014.16,"v":91.3},{"t":2014.22,"v":91.0},{"t":2014.27,"v":91.3},{"t":2014.32,"v":90.6},{"t":2014.38,"v":90.3},{"t":2014.43,"v":90.6},{"t":2014.48,"v":90.3},{"t":2014.53,"v":91.0},{"t":2014.59,"v":92.3},{"t":2014.64,"v":93.5},{"t":2014.69,"v":94.8},{"t":2014.75,"v":96.1},{"t":2014.80,"v":98.1},{"t":2014.85,"v":98.7},{"t":2014.90,"v":100.6},{"t":2014.96,"v":102.6},{"t":2014.99,"v":104.5},{"t":2015.03,"v":106.5},{"t":2015.09,"v":107.1},{"t":2015.14,"v":111.0},{"t":2015.17,"v":110.3},{"t":2015.22,"v":108.4},{"t":2015.28,"v":107.1},{"t":2015.33,"v":104.5},{"t":2015.38,"v":107.1},{"t":2015.44,"v":109.0},{"t":2015.49,"v":107.7},{"t":2015.54,"v":109.7},{"t":2015.59,"v":110.3},{"t":2015.65,"v":107.7},{"t":2015.70,"v":107.1},{"t":2015.75,"v":109.0},{"t":2015.81,"v":111.6},{"t":2015.86,"v":112.3},{"t":2015.91,"v":112.9},{"t":2015.97,"v":113.5},{"t":2016.02,"v":113.9},{"t":2016.07,"v":112.3},{"t":2016.12,"v":109.7},{"t":2016.18,"v":108.4},{"t":2016.23,"v":106.5},{"t":2016.28,"v":105.2},{"t":2016.34,"v":106.5},{"t":2016.39,"v":105.8},{"t":2016.44,"v":107.1},{"t":2016.50,"v":109.0},{"t":2016.55,"v":109.7},{"t":2016.60,"v":107.1},{"t":2016.65,"v":108.4},{"t":2016.71,"v":109.7},{"t":2016.76,"v":110.3},{"t":2016.81,"v":111.6},{"t":2016.85,"v":112.9},{"t":2016.90,"v":115.5},{"t":2016.95,"v":114.2},{"t":2017.00,"v":112.9},{"t":2017.05,"v":111.6},{"t":2017.09,"v":112.3},{"t":2017.13,"v":112.9},{"t":2017.18,"v":113.5},{"t":2017.24,"v":113.5},{"t":2017.29,"v":112.3},{"t":2017.34,"v":111.6},{"t":2017.40,"v":110.3},{"t":2017.45,"v":109.0},{"t":2017.50,"v":106.5},{"t":2017.56,"v":105.2},{"t":2017.61,"v":106.5},{"t":2017.66,"v":103.9},{"t":2017.71,"v":105.8},{"t":2017.77,"v":107.1},{"t":2017.82,"v":107.1},{"t":2017.87,"v":106.5},{"t":2017.93,"v":105.2},{"t":2017.98,"v":103.9},{"t":2018.03,"v":101.3},{"t":2018.09,"v":101.9},{"t":2018.14,"v":103.2},{"t":2018.19,"v":102.6},{"t":2018.24,"v":102.6},{"t":2018.30,"v":104.5},{"t":2018.35,"v":106.5},{"t":2018.40,"v":107.7},{"t":2018.46,"v":108.4},{"t":2018.51,"v":107.7},{"t":2018.56,"v":109.0},{"t":2018.62,"v":109.7},{"t":2018.67,"v":109.0},{"t":2018.72,"v":109.7},{"t":2018.77,"v":110.3},{"t":2018.83,"v":111.0},{"t":2018.88,"v":110.3},{"t":2018.93,"v":109.7},{"t":2018.99,"v":110.3},{"t":2019.04,"v":111.0},{"t":2019.09,"v":110.3},{"t":2019.15,"v":111.0},{"t":2019.20,"v":111.3},{"t":2019.25,"v":111.6},{"t":2019.30,"v":111.0},{"t":2019.36,"v":111.3},{"t":2019.41,"v":109.0},{"t":2019.46,"v":110.6},{"t":2019.52,"v":111.0},{"t":2019.57,"v":111.6},{"t":2019.62,"v":111.3},{"t":2019.68,"v":111.6},{"t":2019.73,"v":111.3},{"t":2019.78,"v":111.0},{"t":2019.83,"v":110.3},{"t":2019.89,"v":110.0},{"t":2019.94,"v":111.0},{"t":2019.99,"v":110.3},{"t":2020.05,"v":109.0},{"t":2020.10,"v":111.6},{"t":2020.13,"v":114.2},{"t":2020.16,"v":117.1},{"t":2020.21,"v":115.5},{"t":2020.26,"v":113.5},{"t":2020.31,"v":114.2},{"t":2020.36,"v":112.9},{"t":2020.42,"v":111.0},{"t":2020.47,"v":109.0},{"t":2020.52,"v":106.5},{"t":2020.58,"v":105.8},{"t":2020.63,"v":105.2},{"t":2020.68,"v":107.7},{"t":2020.74,"v":107.1},{"t":2020.79,"v":106.5},{"t":2020.84,"v":105.2},{"t":2020.89,"v":103.2},{"t":2020.95,"v":102.6},{"t":2021.00,"v":102.6},{"t":2021.05,"v":103.2},{"t":2021.11,"v":103.9},{"t":2021.16,"v":104.5},{"t":2021.19,"v":103.9}
]
},
"layer": [
{
"data": {"name": "emg"},
"mark": {"type": "line", "strokeWidth": 5, "strokeJoin": "round", "strokeCap": "round"},
"encoding": {
"x": {"field": "t", "type": "quantitative", "scale": {"domain": [1973, 2021.2], "nice": false, "zero": false},
 "axis": {"values": [1973,1975,1977,1979,1981,1983,1985,1987,1989,1991,1993,1995,1997,1999,2001,2003,2005,2007,2009,2011,2013,2015,2017,2019,2021], "labelExpr": "'ene.-' + substring(toString(datum.value), 2, 4)", "labelAngle": -90, "tickSize": 12, "tickColor": "#D9D9D9", "tickWidth": 2, "domainColor": "#D9D9D9", "domainWidth": 2, "labelPadding": 4, "labelOverlap": false, "labelFlush": false, "labelBound": false}},
"y": {"field": "v", "type": "quantitative", "scale": {"domain": [60, 140], "nice": false, "zero": false},
 "axis": {"orient": "left", "values": [60,70,80,90,100,110,120,130,140], "ticks": false, "domain": false, "labelPadding": 35}},
"color": {"datum": "USD vs Emergentes", "type": "nominal",
 "scale": {"domain": ["USD vs Emergentes", "USD vs Desarrollados (eje der.)"], "range": ["#E4684D", "#505155"]},
 "legend": {"orient": "none", "legendX": 576, "legendY": -5, "title": null, "symbolType": "stroke", "symbolSize": 3136, "symbolStrokeWidth": 4, "labelFont": "Lato", "labelFontSize": 38, "labelColor": "#595959", "labelOffset": 1, "rowPadding": 28, "padding": 0, "labelLimit": 0}}
}
},
{
"data": {"name": "des"},
"mark": {"type": "line", "strokeWidth": 5, "strokeJoin": "round", "strokeCap": "round"},
"encoding": {
"x": {"field": "t", "type": "quantitative"},
"y": {"field": "v", "type": "quantitative", "scale": {"domain": [80, 180], "nice": false, "zero": false},
 "axis": {"orient": "right", "values": [80,90,100,110,120,130,140,150,160,170,180], "ticks": false, "domain": false, "labelPadding": 20}},
"color": {"datum": "USD vs Desarrollados (eje der.)", "type": "nominal"}
}
}
],
"resolve": {"scale": {"y": "independent"}}
}
